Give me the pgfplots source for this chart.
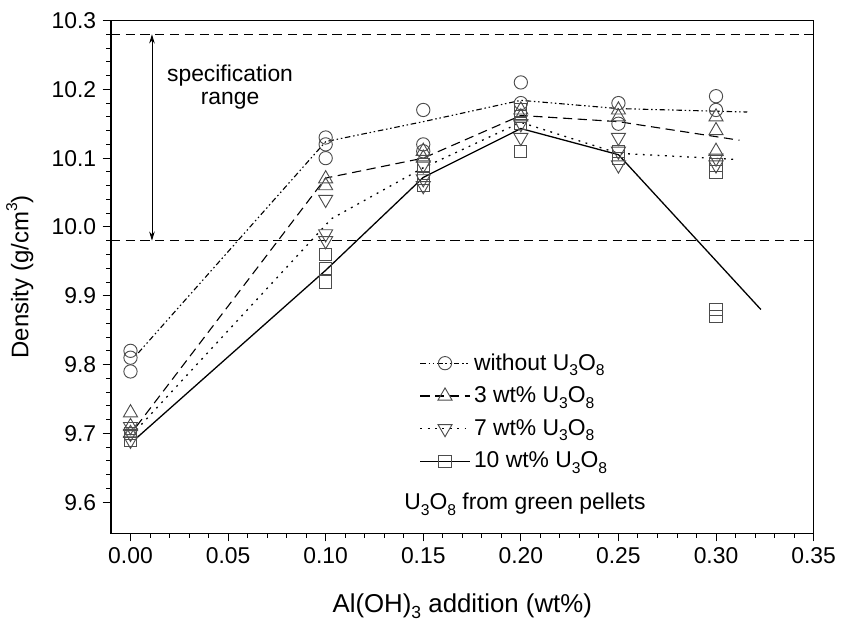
\documentclass[border=0pt]{standalone}
\usepackage{pgfplots}
\pgfplotsset{compat=1.18}
\usepackage{fontspec}
\setmainfont{Liberation Sans}
\usetikzlibrary{arrows.meta}
\newcommand\sub[1]{\raisebox{-0.45ex}{\fontsize{8.5}{8.5}\selectfont #1}}
\newcommand\subx[1]{\raisebox{-0.5ex}{\fontsize{9.5}{9.5}\selectfont #1}}
\newcommand\sups[1]{\raisebox{0.9ex}{\fontsize{8.5}{8.5}\selectfont #1}}
\begin{document}
\begin{tikzpicture}[font=\fontsize{12.4}{14.5}\selectfont]
\begin{axis}[
  width=381pt, height=278pt, scale only axis,
  xmin=-0.01, xmax=0.35, ymin=9.555, ymax=10.3,
  xtick={0,0.05,0.10,0.15,0.20,0.25,0.30,0.35},
  ytick={9.6,9.7,9.8,9.9,10.0,10.1,10.2,10.3},
  minor x tick num=4, minor y tick num=4,
  tick pos=left, tick align=outside,
  major tick length=4.5pt, minor tick length=2.5pt,
  tick style={black, line width=0.5pt},
  axis line style={line width=0.7pt},
  scaled ticks=false,
  /pgf/number format/assume math mode=true,
  xticklabel style={/pgf/number format/.cd, fixed, fixed zerofill, precision=2},
  yticklabel style={/pgf/number format/.cd, fixed, fixed zerofill, precision=1},
  xlabel={Al(OH)\subx{3} addition (wt\%)},
  ylabel={Density (g/cm\sups{3})},
  xlabel style={yshift=-9pt, font=\fontsize{14}{16}\selectfont},
  ylabel style={yshift=3pt, font=\fontsize{13}{15}\selectfont},
  legend style={draw=none, fill=none, at={(axis cs:0.148,9.822)}, anchor=north west,
    row sep=3.5pt, font=\fontsize{12.4}{14.5}\selectfont, inner sep=0pt},
  legend cell align=left,
  legend image code/.code={\draw[mark repeat=2,mark phase=2] plot coordinates {(0cm,0cm) (0.47cm,0cm) (0.94cm,0cm)};},
  clip=false,
]
% specification lines
\addplot[forget plot, black, line width=0.7pt, dash pattern=on 5pt off 3pt] coordinates {(-0.01,10.28) (0.35,10.28)};
\addplot[forget plot, black, line width=0.7pt, dash pattern=on 5pt off 3pt] coordinates {(-0.01,9.98) (0.35,9.98)};
\addplot[forget plot, black, line width=0.5pt, {Stealth[length=5pt,width=3pt]}-{Stealth[length=5pt,width=3pt]}] coordinates {(0.011,10.28) (0.011,9.98)};
\node[align=center, font=\fontsize{12.4}{12.5}\selectfont] at (axis cs:0.051,10.203) {specification\\range};
\path (rel axis cs:0,1.04) coordinate (topspace);

% connecting lines
\addplot[forget plot, black, line width=0.6pt, dash pattern=on 3pt off 1.5pt on 0.8pt off 1.5pt on 0.8pt off 1.5pt] coordinates {(0.004,9.817) (0.10,10.124) (0.15,10.153) (0.20,10.184) (0.25,10.172) (0.316,10.167)};
\addplot[forget plot, black, line width=0.6pt, dash pattern=on 5pt off 3pt] coordinates {(0.003,9.71) (0.10,10.071) (0.15,10.10) (0.20,10.162) (0.25,10.153) (0.312,10.126)};
\addplot[forget plot, black, line width=0.7pt, dash pattern=on 1pt off 3pt] coordinates {(0.003,9.705) (0.103,10.012) (0.15,10.086) (0.20,10.152) (0.25,10.107) (0.311,10.098)};
\addplot[forget plot, black, line width=0.7pt] coordinates {(0.003,9.693) (0.10,9.937) (0.15,10.072) (0.20,10.143) (0.25,10.105) (0.323,9.88)};

% markers
\addplot[forget plot, only marks, mark=o, mark size=3.6pt, mark options={draw=black!70, line width=0.5pt}] coordinates {
(0,9.82) (0,9.81) (0,9.79)
(0.1,10.13) (0.1,10.12) (0.1,10.10)
(0.15,10.17) (0.15,10.12) (0.15,10.11)
(0.2,10.21) (0.2,10.18)
(0.25,10.18) (0.25,10.15)
(0.3,10.19) (0.3,10.17)};
\addplot[forget plot, only marks, mark=triangle, mark size=4.4pt, mark options={draw=black!70, line width=0.5pt}] coordinates {
(0,9.73) (0,9.71) (0,9.70)
(0.1,10.07) (0.1,10.06)
(0.15,10.11) (0.15,10.10)
(0.2,10.17) (0.2,10.16)
(0.25,10.17) (0.25,10.16)
(0.3,10.16) (0.3,10.14) (0.3,10.11)};
\addplot[forget plot, only marks, mark=triangle, mark size=4.4pt, mark options={draw=black!70, line width=0.5pt, rotate=180}] coordinates {
(0,9.71) (0,9.70) (0,9.69)
(0.1,10.04) (0.1,9.99) (0.1,9.98)
(0.15,10.09) (0.15,10.07) (0.15,10.06)
(0.2,10.15) (0.2,10.13)
(0.25,10.13) (0.25,10.11) (0.25,10.09)
(0.3,10.10) (0.3,10.09)};
\addplot[forget plot, only marks, mark=square, mark size=3.3pt, mark options={draw=black!70, line width=0.5pt}] coordinates {
(0,9.70) (0,9.69)
(0.1,9.96) (0.1,9.94) (0.1,9.92)
(0.15,10.09) (0.15,10.07) (0.15,10.06)
(0.2,10.17) (0.2,10.16) (0.2,10.15) (0.2,10.11)
(0.25,10.11) (0.25,10.10)
(0.3,10.09) (0.3,10.08) (0.3,9.88) (0.3,9.87)};

% legend
\addlegendimage{black, line width=0.6pt, dash pattern=on 3pt off 1.5pt on 0.8pt off 1.5pt on 0.8pt off 1.5pt, mark=o, mark size=3.6pt, mark options={solid, draw=black!70, line width=0.5pt}}
\addlegendentry{without U\sub{3}O\sub{8}}
\addlegendimage{black, line width=0.6pt, dash pattern=on 5pt off 3pt, mark=triangle, mark size=4.4pt, mark options={solid, draw=black!70, line width=0.5pt}}
\addlegendentry{3 wt\% U\sub{3}O\sub{8}}
\addlegendimage{black, line width=0.7pt, dash pattern=on 1pt off 3pt, mark=triangle, mark size=4.4pt, mark options={solid, draw=black!70, line width=0.5pt, rotate=180}}
\addlegendentry{7 wt\% U\sub{3}O\sub{8}}
\addlegendimage{black, line width=0.7pt, mark=square, mark size=3.3pt, mark options={solid, draw=black!70, line width=0.5pt}}
\addlegendentry{10 wt\% U\sub{3}O\sub{8}}
\node[anchor=west] at (axis cs:0.137,9.597) {U\sub{3}O\sub{8} from green pellets};
\end{axis}
\end{tikzpicture}
\end{document}
